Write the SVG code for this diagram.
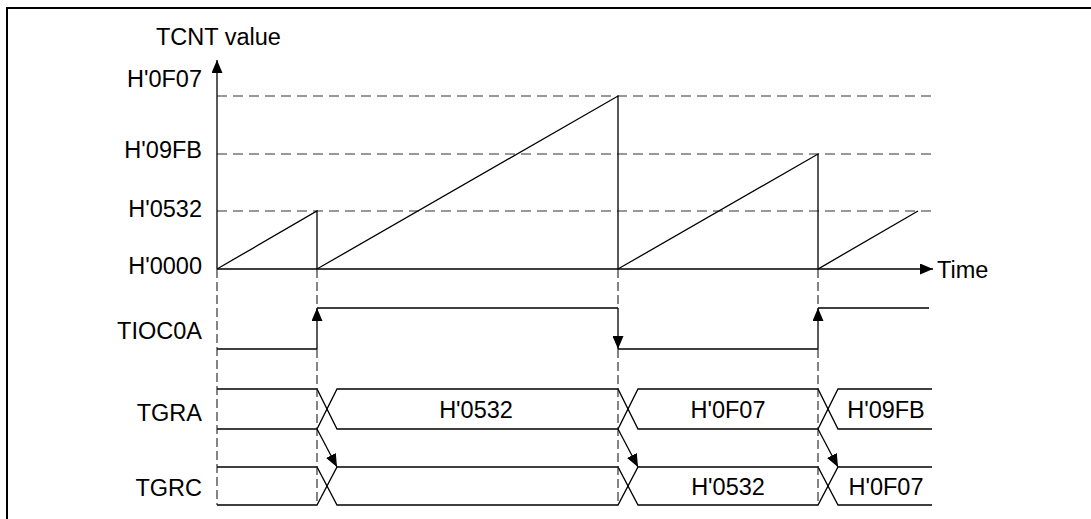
<svg xmlns="http://www.w3.org/2000/svg" width="1091" height="519" viewBox="0 0 1091 519">
<style>
text{font-family:"Liberation Sans",Arial,sans-serif;font-size:23.5px;fill:#000}
.lbl{text-anchor:end}
.mid{text-anchor:middle}
.ln{stroke:#000;stroke-width:1.3;fill:none}
.hd{stroke:#777;stroke-width:1.5;stroke-dasharray:10 6;fill:none}
.vd{stroke:#222;stroke-width:1.1;stroke-dasharray:9 4;fill:none}
.frame{stroke:#000;stroke-width:2;fill:none}
</style>
<defs>
<marker id="ah" markerUnits="userSpaceOnUse" markerWidth="13" markerHeight="11" refX="13" refY="5.5" orient="auto">
<path d="M0,0 L13,5.5 L0,11 z" fill="#000"/>
</marker>
</defs>
<rect width="1091" height="519" fill="#fff"/>
<path class="frame" d="M7,519 V8 H1091"/>
<g id="gridlines">
<path class="hd" d="M217,96 H932"/>
<path class="hd" d="M217,154 H932"/>
<path class="hd" d="M217,211 H932"/>
</g>
<g id="axis-labels">
<text x="156" y="45">TCNT value</text>
<text class="lbl" x="202" y="87">H'0F07</text>
<text class="lbl" x="202" y="158">H'09FB</text>
<text class="lbl" x="202" y="217">H'0532</text>
<text class="lbl" x="202" y="274">H'0000</text>
<text x="937" y="278">Time</text>
</g>
<g id="signal-labels">
<text class="lbl" x="202" y="339">TIOC0A</text>
<text class="lbl" x="202" y="421">TGRA</text>
<text class="lbl" x="202" y="496">TGRC</text>
</g>
<g id="tcnt">
<path class="ln" d="M217,269 L317,211 V269 L618,96 V269 L818,154 V269 L918,211"/>
</g>
<g id="tioc0a">
<path class="ln" d="M217,349 H317"/>
<path class="ln" d="M317,308 H618"/>
<path class="ln" d="M618,349 H818"/>
<path class="ln" d="M818,308 H929"/>
</g>
<g id="tgra">
<path class="ln" d="M217,389 H317 L337,429 H618 L638,389 H818 L838,429 H932"/>
<path class="ln" d="M217,429 H317 L337,389 H618 L638,429 H818 L838,389 H932"/>
<text class="mid" x="476" y="418">H'0532</text>
<text class="mid" x="728" y="418">H'0F07</text>
<text class="mid" x="886" y="418">H'09FB</text>
</g>
<g id="tgrc">
<path class="ln" d="M217,467 H317 L337,505 H618 L638,467 H818 L838,505 H932"/>
<path class="ln" d="M217,505 H317 L337,467 H618 L638,505 H818 L838,467 H932"/>
<text class="mid" x="728" y="495">H'0532</text>
<text class="mid" x="886" y="495">H'0F07</text>
</g>
<g id="connectors">
<path class="ln" d="M217,269 V60" marker-end="url(#ah)"/>
<path class="ln" d="M217,269 H933" marker-end="url(#ah)"/>
<path class="vd" d="M217,269 V505"/>
<path class="vd" d="M317,269 V308 M317,349 V505"/>
<path class="vd" d="M618,269 V308 M618,349 V505"/>
<path class="vd" d="M818,269 V308 M818,349 V505"/>
<path class="ln" d="M317,349 V308" marker-end="url(#ah)"/>
<path class="ln" d="M618,308 V349" marker-end="url(#ah)"/>
<path class="ln" d="M818,349 V308" marker-end="url(#ah)"/>
<path class="ln" d="M317,429 L337,467" marker-end="url(#ah)"/>
<path class="ln" d="M618,429 L638,467" marker-end="url(#ah)"/>
<path class="ln" d="M818,429 L838,467" marker-end="url(#ah)"/>
</g>
</svg>
